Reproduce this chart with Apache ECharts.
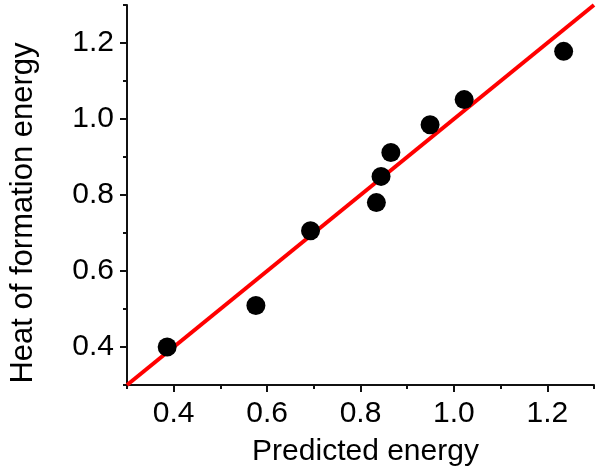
<!DOCTYPE html>
<html>
<head>
<meta charset="utf-8">
<script src="https://cdn.jsdelivr.net/npm/echarts@6/dist/echarts.min.js"></script>
<style>html,body{margin:0;padding:0;background:#fff}#c{width:600px;height:475px}</style>
</head>
<body>
<div id="c"></div>
<script>
var predicted = [0.386, 0.576, 0.693, 0.834, 0.844, 0.865, 0.949, 1.022, 1.235];
var heatOfFormation = [0.400, 0.509, 0.706, 0.780, 0.849, 0.912, 0.985, 1.051, 1.178];
var fitX = [0.3, 1.3];
var fitY = [0.3, 1.3];
var majorTicks = [0.4, 0.6, 0.8, 1.0, 1.2];
var axisMin = 0.3, axisMax = 1.3, minorStep = 0.1;

var FONT = 'Liberation Sans, Arial, sans-serif';
var AX = '#111';

function minorAxis(extra) {
  return Object.assign({
    type: 'value', min: axisMin, max: axisMax, interval: minorStep,
    axisLine: { show: true, onZero: false, lineStyle: { color: AX, width: 2 } },
    axisTick: { show: true, inside: false, length: 4, lineStyle: { color: AX, width: 2 } },
    axisLabel: { show: false },
    splitLine: { show: false }
  }, extra);
}
function majorAxis(extra) {
  return Object.assign({
    type: 'value', min: axisMin, max: axisMax,
    axisLine: { show: false },
    axisTick: { show: true, inside: false, length: 7, customValues: majorTicks, lineStyle: { color: AX, width: 2 } },
    splitLine: { show: false }
  }, extra);
}
function fmt(v) { return Number(v).toFixed(1); }

var scatterData = predicted.map(function (x, i) { return [x, heatOfFormation[i]]; });
var fitData = fitX.map(function (x, i) { return [x, fitY[i]]; });

var chart = echarts.init(document.getElementById('c'), null, { renderer: 'canvas' });
chart.setOption({
  animation: false,
  backgroundColor: '#fff',
  grid: { left: 122, right: 6, top: 5, bottom: 90, containLabel: false },
  xAxis: [
    minorAxis({ position: 'bottom' }),
    majorAxis({
      position: 'bottom',
      axisLabel: { show: true, customValues: majorTicks, fontSize: 30, fontFamily: FONT, color: '#000', margin: 14, formatter: fmt },
      name: 'Predicted energy', nameLocation: 'middle', nameGap: 52,
      nameTextStyle: { fontSize: 30, fontFamily: FONT, color: '#000', padding: [0, 0, 0, 10] }
    })
  ],
  yAxis: [
    minorAxis({ position: 'left' }),
    majorAxis({
      position: 'left',
      axisLabel: { show: true, customValues: majorTicks, fontSize: 30, fontFamily: FONT, color: '#000', margin: 13, formatter: fmt },
      name: 'Heat of formation energy', nameLocation: 'middle', nameGap: 88,
      nameTextStyle: { fontSize: 31, fontFamily: FONT, color: '#000', padding: [0, 36, 0, 0] }
    })
  ],
  series: [
    {
      type: 'line', xAxisIndex: 0, yAxisIndex: 0, data: fitData, showSymbol: false, symbol: 'none',
      lineStyle: { color: '#ff0000', width: 4 }, z: 2
    },
    {
      type: 'scatter', xAxisIndex: 0, yAxisIndex: 0, data: scatterData, symbol: 'circle', symbolSize: 19,
      itemStyle: { color: '#000', opacity: 1 }, z: 3
    }
  ]
});
</script>
</body>
</html>
